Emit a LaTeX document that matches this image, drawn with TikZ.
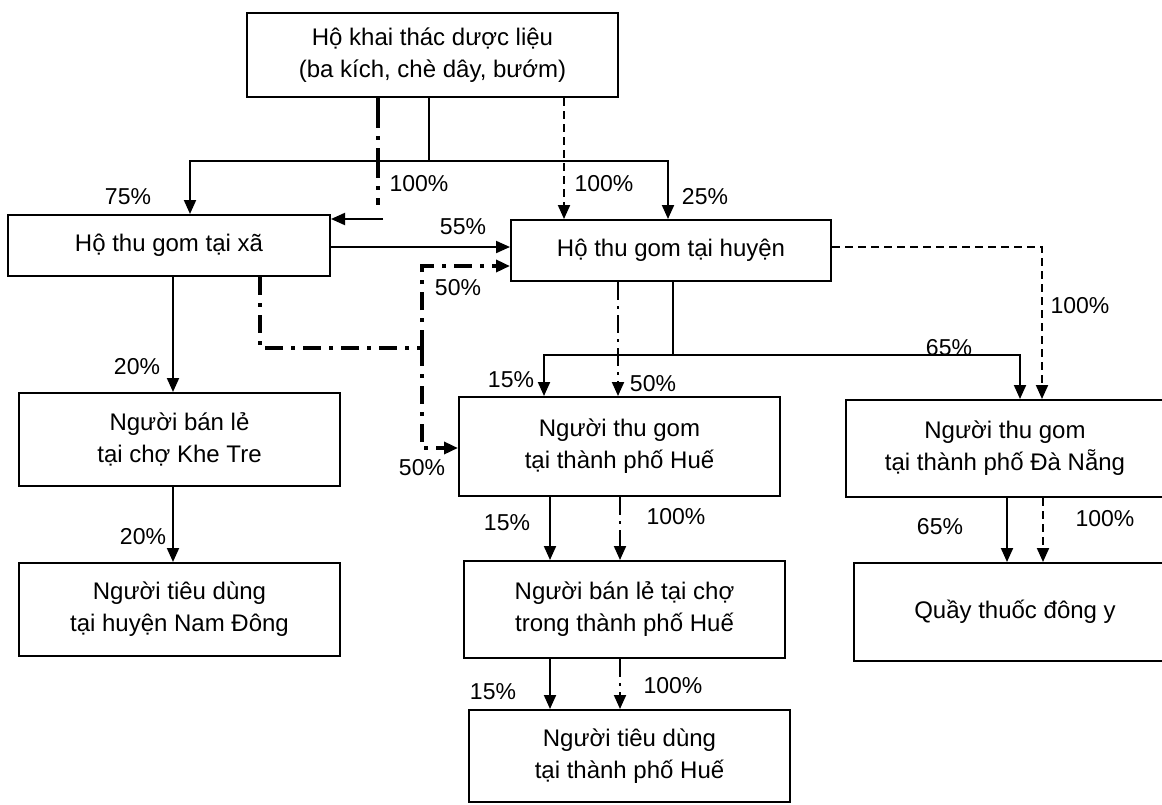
\documentclass[tikz,border=0pt]{standalone}
\usepackage{fontspec}
\setmainfont{Liberation Sans}
\usetikzlibrary{arrows.meta}
\begin{document}
\begin{tikzpicture}[x=0.5pt,y=-0.5pt,
  box/.style={draw,line width=1pt,align=center,inner sep=0pt,font=\fontsize{12}{16}\selectfont},
  lbl/.style={inner sep=0pt,font=\fontsize{11.5}{13}\selectfont},
  tip/.style={-{Triangle[length=7pt,width=6pt]}},
  sol/.style={line width=1pt},
  dsh/.style={line width=1pt,dash pattern=on 4pt off 2.5pt},
  ddthick/.style={line width=2pt,dash pattern=on 15pt off 4pt on 2pt off 4pt},
  ddmid/.style={line width=1.7pt,dash pattern=on 9pt off 4pt on 2pt off 4pt},
  ddthin/.style={line width=1pt,dash pattern=on 9pt off 3pt on 1.5pt off 3pt},
]
\useasboundingbox (0,0) rectangle (1162,804);
\clip (0,0) rectangle (1162,804);

% boxes
\node[box,minimum width=185.5pt,minimum height=42pt] (top) at (432.5,55) {Hộ khai thác dược liệu\\(ba kích, chè dây, bướm)};
\node[box,minimum width=161pt,minimum height=30.5pt] (xa) at (169,245.5) {Hộ thu gom tại xã};
\node[box,minimum width=160pt,minimum height=30.5pt] (huyen) at (671,250.5) {Hộ thu gom tại huyện};
\node[box,minimum width=160.5pt,minimum height=46.5pt] (khetre) at (179.5,439.5) {Người bán lẻ\\tại chợ Khe Tre};
\node[box,minimum width=160.5pt,minimum height=46.5pt] (namdong) at (179.5,609.5) {Người tiêu dùng\\tại huyện Nam Đông};
\node[box,minimum width=160.5pt,minimum height=49.5pt] (huecol) at (619.5,446.5) {Người thu gom\\tại thành phố Huế};
\node[box,minimum width=159pt,minimum height=48.5pt] (danang) at (1005,448.5) {Người thu gom\\tại thành phố Đà Nẵng};
\node[box,minimum width=160.5pt,minimum height=48.5pt] (hueret) at (624.5,609.5) {Người bán lẻ tại chợ\\trong thành phố Huế};
\node[box,minimum width=160.5pt,minimum height=46pt] (huecons) at (629.5,756) {Người tiêu dùng\\tại thành phố Huế};
\node[box,minimum width=161pt,minimum height=49pt] (quay) at (1015,612) {Quầy thuốc đông y};

% guide coordinates
\coordinate (j1) at (429,161);
\coordinate (gA) at (190,0);
\coordinate (gB) at (668,0);
\coordinate (gC) at (378,0);
\coordinate (c1) at (378,205);
\coordinate (c2) at (383,219);
\coordinate (gD) at (564,0);
\coordinate (r1) at (0,247);
\coordinate (d0) at (260,0);
\coordinate (d1) at (260,348);
\coordinate (d2) at (422,348);
\coordinate (d3) at (422,266);
\coordinate (d4) at (422,448);
\coordinate (gE) at (173,0);
\coordinate (j2) at (673,355);
\coordinate (gF) at (544,0);
\coordinate (gG) at (1020,0);
\coordinate (gH) at (618,0);
\coordinate (k1) at (1042,247);
\coordinate (gI) at (550,0);
\coordinate (gJ) at (620,0);
\coordinate (gK) at (1007,0);
\coordinate (gL) at (1043,0);

% top -> xa / huyen (solid, split)
\draw[sol] (top.south -| j1) -- (j1);
\draw[sol,tip] (j1) -| (xa.north -| gA);
\draw[sol,tip] (j1) -| (huyen.north -| gB);
% top -> xa 100% (thick dash-dot)
\draw[ddthick] (top.south -| gC) -- (c1);
\draw[sol,tip] (c2) -- (xa.east |- c2);
% top -> huyen 100% (dashed)
\draw[dsh,tip] (top.south -| gD) -- (huyen.north -| gD);
% xa -> huyen 55%
\draw[sol,tip] (xa.east |- r1) -- (huyen.west |- r1);
% xa dash-dot split 50% / 50%
\draw[ddmid] (xa.south -| d0) -- (d1) -- (d2);
\draw[ddmid,tip] (d2) -- (d3) -- (huyen.west |- d3);
\draw[ddmid,tip] (d2) -- (d4) -- (huecol.west |- d4);
% xa -> khetre -> namdong
\draw[sol,tip] (xa.south -| gE) -- (khetre.north -| gE);
\draw[sol,tip] (khetre.south -| gE) -- (namdong.north -| gE);
% huyen solid split 15% / 65%
\draw[sol] (huyen.south -| j2) -- (j2);
\draw[sol,tip] (j2) -| (huecol.north -| gF);
\draw[sol,tip] (j2) -| (danang.north -| gG);
% huyen -> huecol dash-dot 50%
\draw[ddthin,tip] (huyen.south -| gH) -- (huecol.north -| gH);
% huyen -> danang dashed 100%
\draw[dsh,tip] (huyen.east |- k1) -- (k1) -- (danang.north -| k1);
% hue chain
\draw[sol,tip] (huecol.south -| gI) -- (hueret.north -| gI);
\draw[ddthin,tip] (huecol.south -| gJ) -- (hueret.north -| gJ);
\draw[sol,tip] (hueret.south -| gI) -- (huecons.north -| gI);
\draw[ddthin,tip] (hueret.south -| gJ) -- (huecons.north -| gJ);
% danang -> quay
\draw[sol,tip] (danang.south -| gK) -- (quay.north -| gK);
\draw[dsh,tip] (danang.south -| gL) -- (quay.north -| gL);

% labels
\node[lbl] (l1) at (128,197) {75\%};
\node[lbl] (l2) at (419,184) {100\%};
\node[lbl] (l3) at (604,184) {100\%};
\node[lbl] (l4) at (705,197) {25\%};
\node[lbl] (l5) at (463,227) {55\%};
\node[lbl] (l6) at (458,288) {50\%};
\node[lbl] (l7) at (137,367) {20\%};
\node[lbl] (l8) at (143,537) {20\%};
\node[lbl] (l9) at (511,380) {15\%};
\node[lbl] (l10) at (653,384) {50\%};
\node[lbl] (l11) at (949,348) {65\%};
\node[lbl] (l12) at (1080,306) {100\%};
\node[lbl] (l13) at (422,468) {50\%};
\node[lbl] (l14) at (507,523) {15\%};
\node[lbl] (l15) at (676,517) {100\%};
\node[lbl] (l16) at (493,692) {15\%};
\node[lbl] (l17) at (673,686) {100\%};
\node[lbl] (l18) at (940,527) {65\%};
\node[lbl] (l19) at (1105,519) {100\%};
\end{tikzpicture}
\end{document}
